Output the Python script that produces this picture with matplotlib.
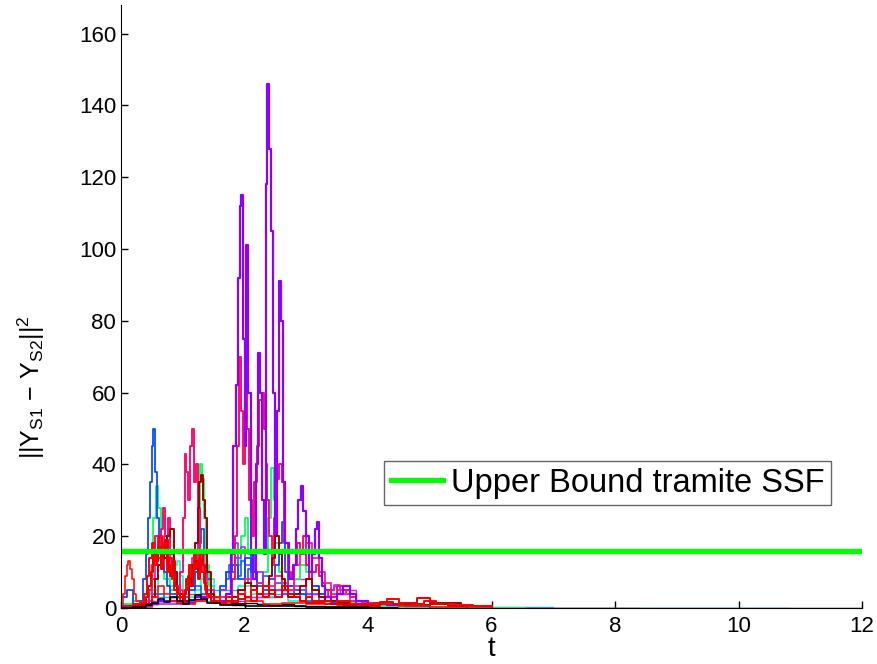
import matplotlib
matplotlib.use("Agg")
import matplotlib.pyplot as plt

plt.rcParams['font.family'] = ['Liberation Sans', 'DejaVu Sans']
plt.rcParams['mathtext.fontset'] = 'custom'
plt.rcParams['mathtext.rm'] = 'Liberation Sans'
plt.rcParams['mathtext.it'] = 'Liberation Sans'

# ---------------- data ----------------
bound_value = 16.0

black_long_t = [0, 0.2, 0.4, 0.6, 0.8, 1.0, 1.2, 1.4, 1.6, 1.8, 2.0, 2.2, 2.4, 2.6, 2.8, 3.0, 3.3, 3.6, 4.0, 4.5, 5, 6, 7, 8, 9, 10, 11, 12]
black_long_v = [0, 0.5, 1, 2, 3, 1.5, 2.5, 3, 1, 0.8, 1.5, 1, 0.8, 1.2, 0.6, 0.5, 0.4, 0.3, 0.2, 0.1, 0.1, 0.05, 0.03, 0.02, 0.01, 0.01, 0, 0]

cyan_t = [0, 0.5, 1.0, 1.5, 2.0, 2.5, 3.0, 3.5, 4.0, 4.5, 5, 6, 7, 8, 9, 10, 10.8]
cyan_v = [0.5, 3, 2, 5, 3, 4, 2, 1, 0.8, 0.5, 0.3, 0.2, 0.1, 0.05, 0.02, 0.01, 0]

magenta_t = [0, 0.5, 1.0, 1.5, 2.0, 2.5, 2.8, 3.0, 3.2, 3.35, 3.45, 3.55, 3.65, 3.8, 4.0, 4.3, 4.6, 5.0, 5.5, 6.0, 6.5, 7.0, 7.5, 8.0, 8.39]
magenta_v = [0.5, 2, 4, 2, 3, 5, 8, 4, 3, 5, 6, 4, 5, 2, 1, 0.8, 0.5, 0.4, 0.2, 0.1, 0.05, 0.03, 0.02, 0.01, 0]

green_t = [0, 0.2, 0.4, 0.48, 0.52, 0.56, 0.6, 0.64, 0.7, 0.8, 0.9, 1.0, 1.1, 1.2, 1.25, 1.28, 1.31, 1.34, 1.38, 1.42, 1.5, 1.6, 1.7, 1.8, 1.9, 1.95, 2.0, 2.05, 2.1, 2.2, 2.3, 2.38, 2.43, 2.47, 2.5, 2.55, 2.6, 2.7, 2.8, 2.9, 3.0, 3.1, 3.2, 3.3, 3.5, 3.8, 4.0, 4.5, 5.0, 5.5, 6.0, 6.54]
green_v = [1, 2, 4, 12, 25, 34, 28, 15, 8, 5, 4, 3, 6, 15, 28, 40, 36, 25, 12, 6, 3, 2, 4, 8, 12, 20, 25, 15, 8, 6, 10, 25, 39, 30, 18, 10, 6, 4, 8, 12, 10, 6, 4, 2, 1.5, 1, 0.5, 0.4, 0.2, 0.1, 0.05, 0]

teal_t = [0, 0.3, 0.5, 0.6, 0.7, 0.8, 0.85, 0.9, 0.95, 1.0, 1.1, 1.2, 1.3, 1.5, 1.7, 1.9, 2.1, 2.3, 2.5, 2.7, 3.0, 3.5, 4.0, 5.0, 6.0]
teal_v = [0.5, 1, 5, 15, 10, 6, 12, 13, 9, 4, 3, 5, 8, 3, 2, 6, 4, 3, 5, 2, 1.5, 0.8, 0.5, 0.3, 0.2]

blue2_t = [0, 0.3, 0.5, 0.7, 0.9, 1.1, 1.3, 1.5, 1.6, 1.7, 1.75, 1.8, 1.85, 1.9, 1.95, 2.0, 2.05, 2.1, 2.15, 2.2, 2.3, 2.4, 2.5, 2.6, 2.7, 2.8, 2.9, 3.0, 3.2, 3.4, 3.6, 3.8, 4.0]
blue2_v = [0.5, 1, 4, 2, 3, 6, 4, 3, 5, 8, 12, 10, 14, 9, 13, 7, 11, 15, 10, 6, 9, 5, 7, 4, 6, 3, 5, 2, 3, 1.5, 1, 0.8, 0.5]

purple_low_t = [0, 0.5, 1.0, 1.4, 1.6, 1.7, 1.8, 1.85, 1.9, 1.95, 2.0, 2.1, 2.2, 2.3, 2.4, 2.6, 2.8, 3.0, 3.2, 3.35, 3.45, 3.55, 3.65, 3.8, 4.0, 4.5]
purple_low_v = [0.3, 1, 2, 3, 5, 10, 15, 18, 14, 17, 12, 8, 10, 6, 5, 4, 6, 4, 3, 5, 6.5, 5, 4, 2, 1, 0.5]

blue_t = [0, 0.1, 0.2, 0.3, 0.36, 0.4, 0.44, 0.47, 0.5, 0.52, 0.55, 0.58, 0.62, 0.66, 0.7, 0.75, 0.8, 0.9, 1.0, 1.1, 1.2, 1.25, 1.3, 1.35, 1.4, 1.45, 1.5, 1.6, 1.7, 1.8, 1.9, 2.0, 2.1, 2.2, 2.3, 2.4, 2.5, 2.55, 2.6, 2.65, 2.7, 2.8, 2.9, 3.0, 3.1, 3.2, 3.3, 3.4, 3.6, 3.8, 4.0, 4.3, 4.6, 5.0]
blue_v = [3, 5, 1, 2, 8, 15, 25, 35, 45, 50, 38, 25, 18, 12, 10, 6, 4, 3, 2, 5, 10, 18, 22, 15, 8, 5, 3, 6, 10, 12, 8, 14, 10, 7, 5, 8, 12, 18, 24, 10, 6, 5, 4, 3, 6, 4, 2, 1.5, 2, 1, 1.5, 0.8, 0.5, 0.3]

pink_t = [0, 0.3, 0.45, 0.5, 0.55, 0.6, 0.65, 0.68, 0.72, 0.76, 0.8, 0.85, 0.9, 0.95, 1.0, 1.03, 1.06, 1.09, 1.12, 1.15, 1.18, 1.21, 1.24, 1.28, 1.32, 1.36, 1.4, 1.5, 1.6, 1.7, 1.8, 1.85, 1.88, 1.91, 1.94, 1.97, 2.0, 2.04, 2.08, 2.12, 2.16, 2.2, 2.24, 2.28, 2.31, 2.34, 2.37, 2.4, 2.44, 2.48, 2.52, 2.56, 2.6, 2.64, 2.7, 2.75, 2.8, 2.85, 2.9, 2.95, 3.0, 3.05, 3.1, 3.15, 3.2, 3.25, 3.3, 3.4, 3.5, 3.6, 3.7, 3.8, 4.0, 4.3, 4.6, 5.0]
pink_v = [0.5, 1, 5, 12, 20, 14, 22, 28, 20, 25, 15, 8, 4, 10, 25, 43, 38, 30, 45, 50, 35, 40, 28, 15, 10, 5, 3, 2, 1.5, 3, 8, 20, 45, 70, 55, 40, 62, 50, 30, 20, 35, 45, 58, 60, 50, 40, 30, 20, 12, 25, 36, 40, 35, 18, 10, 8, 12, 18, 15, 20, 12, 8, 10, 12, 9, 7, 5, 3, 6, 5, 3, 2, 1, 0.8, 0.5, 0.3]

pink2_t = [0, 0.2, 0.4, 0.5, 0.55, 0.6, 0.65, 0.7, 0.75, 0.8, 0.9, 1.0, 1.1, 1.15, 1.2, 1.25, 1.3, 1.35, 1.4, 1.5, 1.7, 1.9, 2.0, 2.1, 2.2, 2.3, 2.4, 2.5, 2.6, 2.7, 2.8, 2.9, 3.0, 3.1, 3.2, 3.3, 3.4, 3.5, 3.6, 3.7, 3.9, 4.2, 4.6, 5.0]
pink2_v = [0.3, 1, 2, 8, 15, 18, 12, 20, 16, 9, 5, 3, 8, 14, 18, 12, 16, 9, 5, 3, 2, 4, 8, 5, 7, 4, 6, 9, 7, 5, 12, 15, 18, 14, 10, 7, 4, 5, 4, 2, 1.5, 1, 0.6, 0.3]

purple_t = [0, 0.3, 0.6, 0.9, 1.2, 1.5, 1.7, 1.78, 1.82, 1.86, 1.89, 1.92, 1.95, 1.98, 2.01, 2.03, 2.06, 2.1, 2.14, 2.18, 2.22, 2.25, 2.28, 2.31, 2.34, 2.37, 2.40, 2.43, 2.46, 2.5, 2.53, 2.56, 2.59, 2.62, 2.66, 2.72, 2.78, 2.83, 2.87, 2.91, 2.95, 2.99, 3.04, 3.09, 3.14, 3.18, 3.21, 3.25, 3.3, 3.4, 3.5, 3.6, 3.7, 3.8, 4.0, 4.3, 4.6, 5.0]
purple_v = [0.5, 1, 2, 1.5, 3, 2, 4, 15, 45, 62, 92, 112, 115, 75, 45, 101, 60, 15, 8, 40, 71, 60, 30, 15, 118, 146, 128, 105, 60, 20, 55, 91, 80, 35, 18, 8, 12, 22, 30, 34, 27, 20, 10, 15, 22, 24, 14, 6, 3, 2, 4, 6, 4, 2, 1, 0.8, 0.5, 0.3]

darkred_t = [0, 0.2, 0.4, 0.5, 0.55, 0.6, 0.65, 0.7, 0.75, 0.8, 0.85, 0.9, 1.0, 1.1, 1.15, 1.2, 1.24, 1.27, 1.3, 1.33, 1.36, 1.4, 1.45, 1.5, 1.6, 1.7, 1.8, 1.9, 2.0, 2.1, 2.2, 2.3, 2.4, 2.45, 2.5, 2.55, 2.6, 2.65, 2.7, 2.8, 2.9, 3.0, 3.1, 3.2, 3.3, 3.5, 3.7, 4.0, 4.5, 5.0, 5.5, 6.0]
darkred_v = [0, 0.5, 1, 3, 8, 12, 16, 14, 20, 22, 10, 4, 2, 6, 12, 18, 28, 35, 37, 30, 25, 10, 4, 2, 1.5, 2, 3, 5, 7, 6, 4, 6, 9, 14, 20, 15, 8, 5, 3, 4, 6, 8, 5, 3, 2, 1.5, 1, 1.2, 0.8, 1.5, 0.6, 0.3]

red_early_t = [0, 0.03, 0.06, 0.09, 0.12, 0.15, 0.18, 0.21, 0.25, 0.3, 0.4, 0.5, 0.6, 0.7, 0.8, 0.9, 1.0, 1.2, 1.4, 1.6, 1.8, 2.0, 2.3, 2.6, 3.0, 3.5, 4.0, 4.5, 5.0, 5.5, 6.0]
red_early_v = [0, 4, 9, 12, 13, 11, 8, 4, 2, 1, 0.5, 3, 6, 4, 2, 1.5, 1, 2, 3, 1.5, 1, 2, 1, 1.5, 1, 0.8, 1.2, 0.6, 0.4, 0.3, 0.2]

red_main_t = [0, 0.1, 0.2, 0.3, 0.38, 0.42, 0.46, 0.5, 0.54, 0.58, 0.62, 0.66, 0.7, 0.74, 0.78, 0.82, 0.86, 0.9, 0.95, 1.0, 1.05, 1.1, 1.14, 1.18, 1.22, 1.26, 1.3, 1.34, 1.38, 1.42, 1.5, 1.6, 1.7, 1.8, 1.9, 2.0, 2.1, 2.2, 2.3, 2.4, 2.5, 2.6, 2.7, 2.8, 2.9, 3.0, 3.1, 3.2, 3.3, 3.5, 3.7, 3.9, 4.1, 4.3, 4.5, 4.7, 4.9, 5.1, 5.4, 5.7, 6.0]
red_main_v = [0.2, 0.5, 1, 1.5, 4, 9, 14, 18, 12, 16, 20, 15, 18, 10, 14, 8, 5, 3, 2, 4, 8, 12, 9, 15, 11, 14, 10, 7, 4, 3, 2, 1.5, 3, 2, 4, 3, 5, 4, 6, 4, 3, 5, 4, 3, 2, 3, 2, 1.5, 1, 2, 1, 0.8, 1.5, 2.5, 1.5, 1, 2, 1, 0.8, 0.5, 0.3]

red3_t = [0, 0.15, 0.3, 0.4, 0.44, 0.48, 0.52, 0.56, 0.6, 0.64, 0.68, 0.72, 0.76, 0.8, 0.84, 0.88, 0.92, 0.96, 1.0, 1.04, 1.08, 1.12, 1.16, 1.2, 1.24, 1.28, 1.32, 1.36, 1.4, 1.45, 1.5, 1.6, 1.7, 1.8, 1.9, 2.0, 2.1, 2.2, 2.3, 2.4, 2.5, 2.6, 2.7, 2.8, 2.9, 3.0, 3.2, 3.4, 3.6, 3.8, 4.0, 4.2, 4.4, 4.6, 4.8, 5.0, 5.3, 5.6]
red3_v = [0, 0.5, 1, 3, 6, 10, 16, 13, 17, 11, 15, 19, 12, 9, 13, 6, 4, 3, 2, 5, 9, 6, 11, 13, 8, 15, 12, 6, 4, 2, 1.5, 1, 2, 1.5, 2.5, 3, 2, 4, 3, 5, 3, 6, 4, 3, 2, 1.5, 2, 1, 0.8, 1.2, 0.6, 1.8, 1.2, 1.5, 2.8, 1.2, 0.7, 0.4]

black_low_t = [0, 0.2, 0.4, 0.5, 0.6, 0.7, 0.8, 0.9, 1.0, 1.1, 1.2, 1.3, 1.4, 1.6, 1.8, 2.0, 2.5, 3.0, 3.5, 4.0]
black_low_v = [0, 0.3, 0.8, 1.5, 2.5, 1.8, 3, 2, 1.2, 2.2, 3.5, 2.5, 1.5, 0.8, 1, 0.6, 0.5, 0.3, 0.2, 0.1]

# ---------------- figure ----------------
fig = plt.figure(figsize=(8.77, 6.64), dpi=100)
ax = fig.add_axes([0.138, 0.0843, 0.845, 0.9082])

series = [
    (black_long_t, black_long_v, '#000000', 1.0),
    (cyan_t, cyan_v, '#00b4ff', 1.0),
    (magenta_t, magenta_v, '#ff10c0', 1.0),
    (green_t, green_v, '#00ff5a', 1.3),
    (teal_t, teal_v, '#00ffbb', 1.2),
    (blue2_t, blue2_v, '#1e5aff', 1.2),
    (purple_low_t, purple_low_v, '#9b30ff', 1.2),
    (blue_t, blue_v, '#0a4bff', 1.3),
    (pink2_t, pink2_v, '#ff1a8c', 1.3),
    (pink_t, pink_v, '#ff0a6e', 1.4),
    (purple_t, purple_v, '#8c00ff', 1.6),
    (darkred_t, darkred_v, '#a00000', 1.4),
    (red_early_t, red_early_v, '#ff1010', 1.2),
    (red_main_t, red_main_v, '#ff0000', 1.4),
    (red3_t, red3_v, '#e80000', 1.4),
    (black_low_t, black_low_v, '#000000', 1.2),
]
for t, v, c, w in series:
    ax.plot(t, v, color=c, lw=w, drawstyle='steps-post')

ax.axhline(bound_value, color='#00ff00', lw=3.8, label='Upper Bound tramite SSF')

ax.set_xlim(0, 12)
ax.set_ylim(0, 168)
ax.set_xticks(range(0, 13, 2))
ax.set_yticks(range(0, 161, 20))
ax.spines['top'].set_visible(False)
ax.spines['right'].set_visible(False)
ax.tick_params(direction='in', length=5, width=1, labelsize=16)
ax.tick_params(axis='x', pad=6)
ax.set_xlabel('t', fontsize=20, labelpad=-1)
ax.set_ylabel(r'$||\mathrm{Y}_{\mathrm{S1}}\ \mathrm{-}\ \mathrm{Y}_{\mathrm{S2}}||^{2}$', fontsize=18)
ax.yaxis.set_label_coords(-0.1, 0.366)

leg = ax.legend(loc='center', bbox_to_anchor=(0.657, 0.207), fontsize=23.5, frameon=True,
                fancybox=False, handlelength=1.6, borderpad=0.2, handletextpad=0.25,
                borderaxespad=0)
leg.get_frame().set_edgecolor('#404040')
leg.get_frame().set_linewidth(1.0)

fig.savefig('out.png', dpi=100)
